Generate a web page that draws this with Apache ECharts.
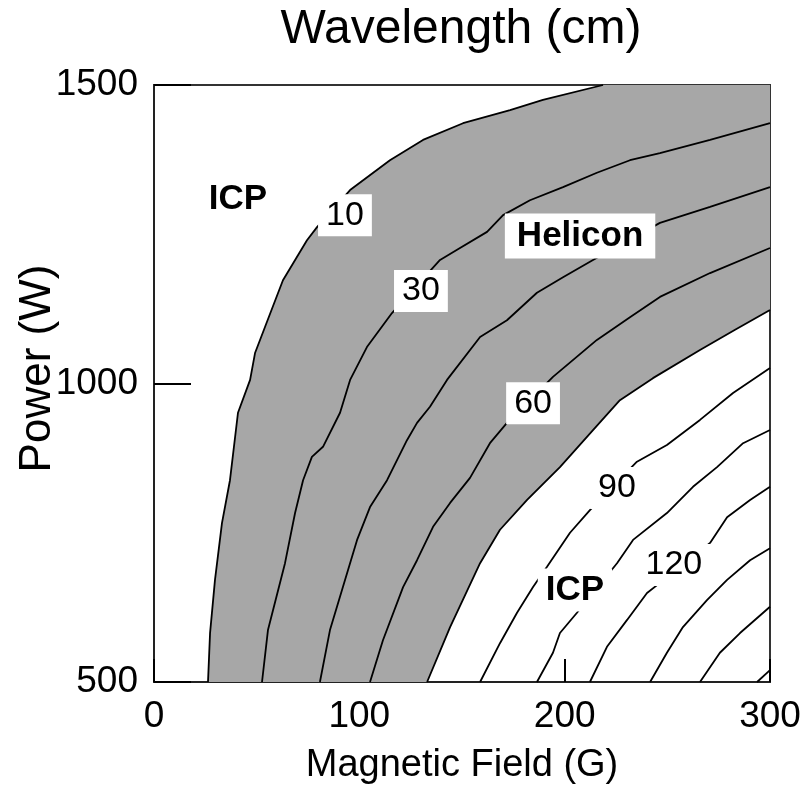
<!DOCTYPE html>
<html>
<head>
<meta charset="utf-8">
<script src="https://cdn.jsdelivr.net/npm/echarts@6/dist/echarts.min.js"></script>
<style>
html,body{margin:0;padding:0;background:#fff;}
#chart{width:803px;height:791px;}
</style>
</head>
<body>
<div id="chart"></div>
<script>
// ---- data (Magnetic Field G, Power W) ----
const xTicks = [0, 100, 200, 300];
const yTicks = [500, 1000, 1500];

// contour lines, each as [G, P] points
const curve10 = [[26.3,500],[27.3,582],[29.7,671],[33.1,766],[37.0,838],[40.9,951],[46.8,1006],[49.2,1051],[54.1,1095],[62.8,1173],[74.5,1240],[79.4,1262],[95.5,1324],[114.9,1374],[131.0,1408],[150.5,1436],[173.4,1458],[189.4,1475],[218.7,1500]];
const curve30 = [[52.6,500],[55.5,587],[63.8,699],[68.7,783],[72.6,838],[76.9,877],[82.3,894],[90.6,951],[95.5,1006],[103.7,1061],[115.9,1118],[139.3,1207],[147.6,1224],[162.2,1254],[170.0,1282],[183.1,1307],[199.2,1329],[215.7,1353],[231.8,1374],[246.4,1386],[270.8,1408],[300,1436]];
const curve45 = [[80.8,500],[85.7,587],[92.0,659],[98.9,738],[105.2,793],[113.5,838],[123.2,905],[128.1,934],[134.4,961],[142.7,1006],[158.8,1078],[171.9,1106],[186.5,1152],[199.2,1178],[213.8,1207],[246.4,1269],[270.8,1296],[300,1329]];
const curve60 = [[105.2,500],[111.5,570],[121.3,659],[128.1,704],[135.9,760],[144.2,800],[153.9,842],[163.6,900],[171.9,934],[194.3,1011],[215.7,1073],[231.8,1111],[246.4,1145],[270.8,1185],[300,1227]];
const curve75 = [[133.0,500],[144.2,592],[158.8,699],[168.5,755],[181.7,805],[197.7,860],[213.8,922],[226.9,972],[243.0,1009],[265.9,1056],[283.0,1090],[300,1123]];
const curve90 = [[158.8,500],[168.5,565],[176.8,616],[184.6,659],[191.4,693],[202.6,750],[212.3,788],[235.2,869],[249.8,897],[265.9,939],[282.0,984],[300,1026]];
const curve105 = [[186.5,500],[194.3,549],[197.7,582],[206.0,616],[225.5,699],[233.3,738],[249.8,783],[262.5,827],[274.2,860],[286.9,900],[300,922]];
const curve120 = [[212.3,500],[220.6,559],[230.4,604],[240.1,649],[246.4,666],[270.8,733],[279.1,776],[290.3,805],[300,827]];
const curve135 = [[241.6,500],[249.8,549],[257.6,592],[269.3,637],[279.1,671],[290.3,704],[300,724]];
const curve150 = [[265.9,500],[275.6,549],[285.4,582],[300,626]];
const curve165 = [[293.7,500],[300,520]];

// annotation texts and their anchor values
const labelTexts = ['ICP', '10', '30', 'Helicon', '60', '90', 'ICP', '120'];
const labelG = [40.9, 93.0, 130.0, 207.5, 184.6, 225.5, 205.0, 253.2];
const labelP = [1309, 1282, 1155, 1247, 967, 825, 654, 696];

// ---- chart ----
const FONT = "'Liberation Sans', Arial, Helvetica, sans-serif";
const chart = echarts.init(document.getElementById('chart'));

const contourSets = [curve10, curve30, curve45, curve60, curve75, curve90, curve105, curve120, curve135, curve150, curve165];

const lineSeries = contourSets.map(c => ({
  type: 'line',
  data: c,
  symbol: 'none',
  smooth: false,
  silent: true,
  z: 3,
  lineStyle: { color: '#000', width: 1.8 },
  animation: false
}));

const helicon = {
  type: 'custom',
  silent: true,
  z: 1,
  data: [0],
  renderItem: function (params, api) {
    const pts = [];
    curve10.forEach(p => pts.push(api.coord(p)));
    pts.push(api.coord([300, 1500]));
    for (let i = curve75.length - 1; i >= 0; i--) pts.push(api.coord(curve75[i]));
    return {
      type: 'polygon',
      shape: { points: pts },
      style: { fill: '#a7a7a7', stroke: null }
    };
  },
  animation: false
};

const labels = {
  type: 'scatter',
  symbolSize: 0,
  silent: true,
  z: 10,
  itemStyle: { opacity: 1 },
  emphasis: { disabled: true },
  data: labelTexts.map((t, i) => {
    const bold = (t === 'ICP' || t === 'Helicon');
    return {
      value: [labelG[i], labelP[i]],
      name: t,
      label: {
        show: true,
        position: 'inside',
        formatter: t,
        fontFamily: FONT,
        fontSize: bold ? 35 : 34,
        fontWeight: bold ? 'bold' : 'normal',
        color: '#000',
        opacity: 1,
        backgroundColor: '#ffffff',
        padding: t === 'Helicon' ? [6, 12, 4, 12] : [5, 8, 3, 8]
      }
    };
  }),
  animation: false
};

chart.setOption({
  animation: false,
  backgroundColor: '#fff',
  title: {
    text: 'Wavelength (cm)',
    left: 456,
    top: 1,
    textAlign: 'center',
    textStyle: { fontFamily: FONT, fontSize: 48, fontWeight: 'normal', color: '#000' }
  },
  grid: {
    left: 154, right: 33, top: 85, bottom: 109,
    outerBoundsMode: 'none',
    containLabel: false,
    show: true,
    borderColor: '#333',
    borderWidth: 2,
    backgroundColor: '#fff'
  },
  xAxis: {
    type: 'value',
    min: xTicks[0], max: xTicks[xTicks.length - 1], interval: 100,
    name: 'Magnetic Field (G)',
    nameLocation: 'middle',
    nameGap: 65,
    nameMoveOverlap: false,
    nameTextStyle: { fontFamily: FONT, fontSize: 38, color: '#000', verticalAlign: 'top' },
    axisLine: { show: true, lineStyle: { color: '#222', width: 2 } },
    axisTick: { show: true, inside: true, length: 23, lineStyle: { color: '#000', width: 2 } },
    axisLabel: { fontFamily: FONT, fontSize: 37, color: '#000', margin: 16 },
    splitLine: { show: false }
  },
  yAxis: {
    type: 'value',
    min: yTicks[0], max: yTicks[yTicks.length - 1], interval: 500,
    name: 'Power (W)',
    nameLocation: 'middle',
    nameGap: 94,
    nameRotate: 90,
    nameMoveOverlap: false,
    nameTextStyle: { fontFamily: FONT, fontSize: 44, color: '#000', padding: [0, 0, 0, 30] },
    axisLine: { show: true, lineStyle: { color: '#222', width: 2 } },
    axisTick: { show: true, inside: true, length: 37, lineStyle: { color: '#000', width: 2 } },
    axisLabel: { fontFamily: FONT, fontSize: 37, color: '#000', margin: 16, formatter: v => String(v) },
    splitLine: { show: false }
  },
  series: [helicon].concat(lineSeries).concat([labels])
});
</script>
</body>
</html>
